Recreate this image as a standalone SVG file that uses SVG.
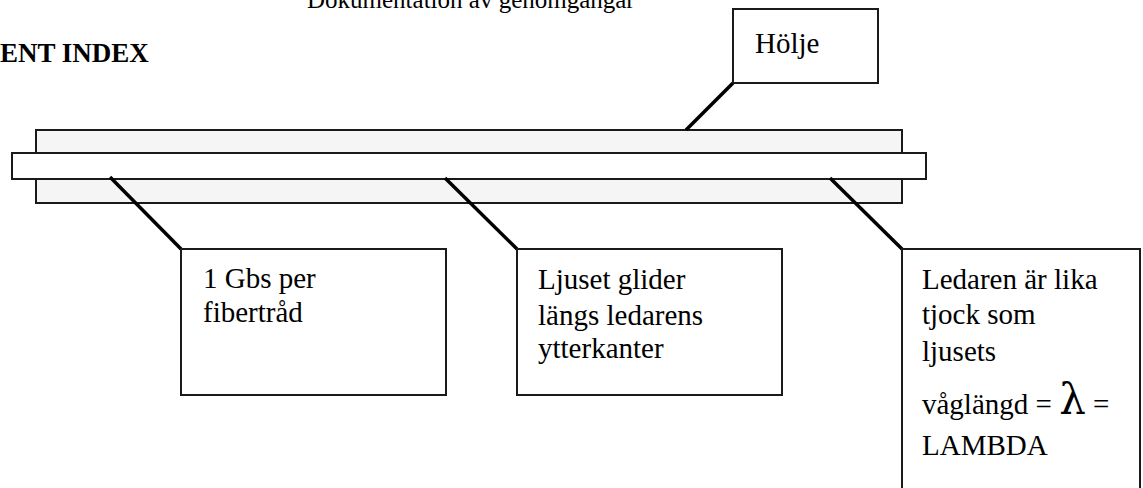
<svg xmlns="http://www.w3.org/2000/svg" width="1143" height="488" viewBox="0 0 1143 488">
  <style>
    .txt { font-family: "Liberation Serif", "Times New Roman", serif; font-size: 29px; fill: #000; }
    .head { font-family: "Liberation Serif", "Times New Roman", serif; font-size: 27px; font-weight: bold; fill: #000; }
    .title { font-family: "Liberation Serif", "Times New Roman", serif; font-size: 25px; fill: #000; }
    .box { fill: #fff; stroke: #1a1a1a; stroke-width: 2; }
    .sheath { fill: #f5f5f5; stroke: #1a1a1a; stroke-width: 2; }
    .core { fill: #fff; stroke: #1a1a1a; stroke-width: 2; }
    .leader { stroke: #000; stroke-width: 3.5; fill: none; }
  </style>

  <!-- page headings -->
  <text class="title" x="307" y="8">Dokumentation av genomgångar</text>
  <text class="head" x="0" y="62">ENT INDEX</text>

  <!-- fibre: outer sheath with the core running through it -->
  <g id="fiber">
    <rect class="sheath" x="36" y="130" width="866" height="73"/>
    <rect class="core" x="12" y="153" width="914" height="26"/>
  </g>

  <!-- leader lines from the labels to the fibre -->
  <g id="connectors">
    <line class="leader" x1="686" y1="130" x2="733" y2="83"/>
    <line class="leader" x1="110" y1="177" x2="181" y2="249"/>
    <line class="leader" x1="445" y1="178" x2="517" y2="249"/>
    <line class="leader" x1="830" y1="178" x2="902" y2="249"/>
  </g>

  <g id="label-holje">
    <rect class="box" x="733" y="9" width="145" height="74"/>
    <text class="txt" x="755" y="53">Hölje</text>
  </g>

  <g id="label-rate">
    <rect class="box" x="181" y="249" width="265" height="146"/>
    <text class="txt" x="203" y="288">1 Gbs per</text>
    <text class="txt" x="203" y="322">fibertråd</text>
  </g>

  <g id="label-glide">
    <rect class="box" x="517" y="249" width="265" height="146"/>
    <text class="txt" x="538" y="289">Ljuset glider</text>
    <text class="txt" x="538" y="325">längs ledarens</text>
    <text class="txt" x="538" y="358">ytterkanter</text>
  </g>

  <g id="label-lambda">
    <rect class="box" x="902" y="249" width="238" height="260"/>
    <text class="txt" x="922" y="289">Ledaren är lika</text>
    <text class="txt" x="922" y="324">tjock som</text>
    <text class="txt" x="922" y="361">ljusets</text>
    <text class="txt" x="922" y="414">våglängd = <tspan font-size="42" font-family="DejaVu Serif, serif">λ</tspan> =</text>
    <text class="txt" x="922" y="455">LAMBDA</text>
  </g>
</svg>
